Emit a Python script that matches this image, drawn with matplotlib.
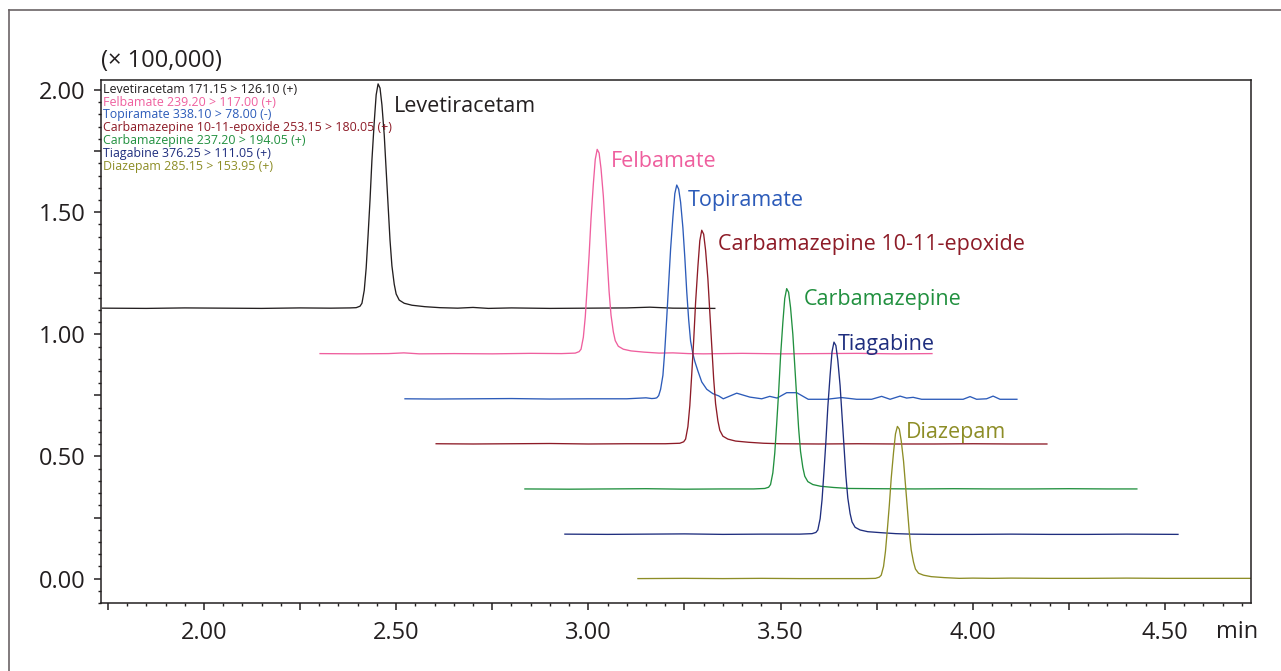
import matplotlib
matplotlib.use("Agg")
import matplotlib.pyplot as plt
from matplotlib.ticker import MultipleLocator, FuncFormatter
from matplotlib.lines import Line2D

plt.rcParams['font.family'] = ['Open Sans', 'DejaVu Sans']

# chromatograms as drawn (time in min, intensity in x 100,000)
lev_t = [1.736, 1.85, 1.95, 2.05, 2.15, 2.25, 2.33, 2.38,
         2.396, 2.406, 2.411, 2.417, 2.422, 2.427, 2.432, 2.437, 2.443, 2.448, 2.453,
         2.458, 2.463, 2.469, 2.474, 2.479, 2.484, 2.489, 2.495, 2.500, 2.508, 2.521,
         2.541, 2.575, 2.614,
         2.66, 2.70, 2.74, 2.80, 2.90, 3.00, 3.10, 3.16, 3.22, 3.329]
lev_y = [1.107, 1.106, 1.108, 1.107, 1.106, 1.108, 1.107, 1.108,
         1.109, 1.115, 1.127, 1.180, 1.271, 1.406, 1.549, 1.714, 1.869, 1.980, 2.025,
         2.008, 1.939, 1.816, 1.672, 1.529, 1.386, 1.280, 1.205, 1.165, 1.140, 1.127,
         1.119, 1.113, 1.109,
         1.107, 1.110, 1.106, 1.108, 1.106, 1.107, 1.108, 1.111, 1.107, 1.106]

felb_t = [2.302, 2.40, 2.48, 2.52, 2.56, 2.65, 2.75, 2.85, 2.93,
          2.966, 2.976, 2.981, 2.987, 2.992, 2.997, 3.002, 3.007, 3.013, 3.018, 3.023,
          3.028, 3.033, 3.039, 3.044, 3.049, 3.054, 3.059, 3.065, 3.070, 3.078, 3.091,
          3.111, 3.145, 3.184,
          3.22, 3.26, 3.30, 3.40, 3.50, 3.60, 3.70, 3.80, 3.894]
felb_y = [0.921, 0.920, 0.921, 0.924, 0.920, 0.921, 0.920, 0.922, 0.921,
          0.923, 0.929, 0.939, 0.988, 1.071, 1.194, 1.324, 1.474, 1.615, 1.716, 1.757,
          1.742, 1.678, 1.566, 1.436, 1.306, 1.175, 1.078, 1.010, 0.974, 0.951, 0.939,
          0.932, 0.927, 0.923,
          0.924, 0.921, 0.920, 0.922, 0.920, 0.921, 0.922, 0.920, 0.921]

topi_t = [2.523, 2.60, 2.70, 2.80, 2.90, 3.00, 3.10, 3.15, 3.165,
          3.173, 3.178, 3.183, 3.188, 3.194, 3.199, 3.204, 3.209, 3.214, 3.220, 3.225, 3.230,
          3.235, 3.240, 3.246, 3.251, 3.256, 3.261, 3.266, 3.272, 3.277, 3.285, 3.295,
          3.308, 3.324, 3.339,
          3.351, 3.386, 3.420, 3.451, 3.472, 3.491, 3.516, 3.542, 3.572, 3.620, 3.659,
          3.698, 3.737, 3.763, 3.785, 3.811, 3.828, 3.845, 3.867, 3.941, 3.975, 3.993,
          4.010, 4.036, 4.053, 4.071, 4.115]
topi_y = [0.736, 0.735, 0.736, 0.737, 0.735, 0.736, 0.736, 0.740, 0.737,
          0.738, 0.740, 0.749, 0.775, 0.832, 0.937, 1.069, 1.209, 1.349, 1.480, 1.576, 1.611,
          1.594, 1.541, 1.436, 1.314, 1.174, 1.060, 0.972, 0.920, 0.889, 0.850, 0.805,
          0.775, 0.757, 0.748,
          0.736, 0.759, 0.743, 0.736, 0.746, 0.739, 0.761, 0.761, 0.734, 0.734, 0.741,
          0.734, 0.734, 0.746, 0.734, 0.747, 0.739, 0.742, 0.734, 0.734, 0.734, 0.745,
          0.734, 0.736, 0.747, 0.734, 0.734]

epox_t = [2.604, 2.70, 2.80, 2.90, 3.00, 3.10, 3.20,
          3.238, 3.248, 3.253, 3.259, 3.264, 3.269, 3.274, 3.279, 3.285, 3.290, 3.295,
          3.300, 3.305, 3.311, 3.316, 3.321, 3.326, 3.331, 3.337, 3.342, 3.350, 3.363,
          3.383, 3.417, 3.456,
          3.50, 3.60, 3.70, 3.80, 3.90, 4.00, 4.10, 4.193]
epox_y = [0.552, 0.551, 0.552, 0.553, 0.551, 0.552, 0.552,
          0.554, 0.560, 0.571, 0.622, 0.708, 0.837, 0.973, 1.130, 1.277, 1.383, 1.426,
          1.410, 1.344, 1.227, 1.090, 0.954, 0.818, 0.716, 0.646, 0.607, 0.583, 0.571,
          0.563, 0.558, 0.554,
          0.552, 0.551, 0.552, 0.551, 0.551, 0.552, 0.551, 0.551]

carb_t = [2.835, 2.95, 3.05, 3.15, 3.25, 3.35, 3.43,
          3.459, 3.469, 3.474, 3.480, 3.485, 3.490, 3.495, 3.500, 3.506, 3.511, 3.516,
          3.521, 3.526, 3.532, 3.537, 3.542, 3.547, 3.552, 3.558, 3.563, 3.571, 3.584,
          3.604, 3.638, 3.677,
          3.75, 3.85, 3.95, 4.05, 4.15, 4.25, 4.35, 4.427]
carb_y = [0.367, 0.366, 0.367, 0.368, 0.366, 0.367, 0.367,
          0.369, 0.374, 0.385, 0.433, 0.514, 0.634, 0.762, 0.909, 1.048, 1.147, 1.187,
          1.172, 1.110, 1.000, 0.872, 0.744, 0.616, 0.521, 0.455, 0.419, 0.397, 0.385,
          0.378, 0.373, 0.369,
          0.368, 0.367, 0.368, 0.367, 0.367, 0.368, 0.367, 0.367]

tiag_t = [2.939, 3.05, 3.15, 3.25, 3.35, 3.45, 3.55,
          3.582, 3.592, 3.597, 3.603, 3.608, 3.613, 3.618, 3.623, 3.629, 3.634, 3.639,
          3.644, 3.649, 3.655, 3.660, 3.665, 3.670, 3.675, 3.681, 3.686, 3.694, 3.707,
          3.727, 3.761, 3.800,
          3.84, 3.90, 4.00, 4.10, 4.20, 4.30, 4.40, 4.534]
tiag_y = [0.182, 0.181, 0.182, 0.183, 0.181, 0.182, 0.182,
          0.184, 0.189, 0.199, 0.245, 0.323, 0.438, 0.561, 0.702, 0.834, 0.929, 0.968,
          0.954, 0.894, 0.789, 0.666, 0.544, 0.421, 0.330, 0.266, 0.232, 0.210, 0.199,
          0.192, 0.188, 0.184,
          0.182, 0.181, 0.181, 0.182, 0.181, 0.181, 0.182, 0.181]

diaz_t = [3.129, 3.25, 3.35, 3.45, 3.55, 3.65, 3.72,
          3.747, 3.757, 3.762, 3.768, 3.773, 3.778, 3.783, 3.788, 3.794, 3.799, 3.804,
          3.809, 3.814, 3.820, 3.825, 3.830, 3.835, 3.840, 3.846, 3.851, 3.859, 3.872,
          3.892, 3.926, 3.965,
          4.00, 4.05, 4.10, 4.20, 4.30, 4.40, 4.50, 4.60, 4.73]
diaz_y = [0.000, 0.001, 0.000, 0.001, 0.000, 0.000, 0.000,
          0.001, 0.006, 0.014, 0.050, 0.112, 0.203, 0.300, 0.412, 0.517, 0.592, 0.623,
          0.612, 0.564, 0.481, 0.384, 0.287, 0.189, 0.117, 0.067, 0.039, 0.022, 0.014,
          0.008, 0.004, 0.001,
          0.002, 0.001, 0.002, 0.001, 0.001, 0.002, 0.001, 0.001, 0.001]

names = ["Levetiracetam", "Felbamate", "Topiramate", "Carbamazepine 10-11-epoxide",
         "Carbamazepine", "Tiagabine", "Diazepam"]
transitions = ["171.15 > 126.10 (+)", "239.20 > 117.00 (+)", "338.10 > 78.00 (-)",
               "253.15 > 180.05 (+)", "237.20 > 194.05 (+)", "376.25 > 111.05 (+)",
               "285.15 > 153.95 (+)"]
colors = ["#231f20", "#ef5f9e", "#2c5bb9", "#8d1b27", "#21903f", "#1f2e7e", "#8d8d26"]
# where each peak name sits (time, intensity)
label_t = [2.494, 3.059, 3.259, 3.337, 3.561, 3.649, 3.826]
label_y = [1.933, 1.709, 1.549, 1.369, 1.144, 0.960, 0.598]

traces = [(lev_t, lev_y), (felb_t, felb_y), (topi_t, topi_y), (epox_t, epox_y),
          (carb_t, carb_y), (tiag_t, tiag_y), (diaz_t, diaz_y)]

fig = plt.figure(figsize=(12.81, 6.71), dpi=100)
ax = fig.add_axes([0.0788, 0.1013, 0.8978, 0.7795])

for (t, y), c in zip(traces, colors):
    ax.plot(t, y, color=c, lw=0.95)

for name, c, lt, ly in zip(names, colors, label_t, label_y):
    ax.text(lt, ly, name, color=c, fontsize=15.5, va='center', ha='left')

# small channel list in the top-left corner
for i, (name, tr, c) in enumerate(zip(names, transitions, colors)):
    ax.annotate(name + " " + tr, xy=(0, 1), xycoords='axes fraction',
                xytext=(1.5, -6.6 - i * 9.3), textcoords='offset points',
                color=c, fontsize=8.9, va='center', ha='left')

ax.set_xlim(1.732, 4.724)
ax.set_ylim(-0.1, 2.041)

def half_fmt(v, pos):
    if abs(v * 2 - round(v * 2)) < 1e-6:
        return f"{v:.2f}"
    return ""

ax.xaxis.set_major_locator(MultipleLocator(0.25))
ax.xaxis.set_minor_locator(MultipleLocator(0.05))
ax.yaxis.set_major_locator(MultipleLocator(0.25))
ax.yaxis.set_minor_locator(MultipleLocator(0.05))
ax.xaxis.set_major_formatter(FuncFormatter(half_fmt))
ax.yaxis.set_major_formatter(FuncFormatter(half_fmt))
ax.tick_params(which='major', length=5, width=1.1, color='#231f20', labelsize=17,
               labelcolor='#231f20')
ax.tick_params(which='minor', length=2.5, width=1.0, color='#231f20')
ax.tick_params(axis='x', which='major', pad=8)
ax.tick_params(axis='y', which='major', pad=6)
for sp in ax.spines.values():
    sp.set_linewidth(1.1)
    sp.set_color('#231f20')

ax.text(0.0, 1.037, "(\u00d7 100,000)", transform=ax.transAxes, fontsize=17,
        color='#231f20', va='center', ha='left')
ax.text(0.988, -0.056, "min", transform=ax.transAxes, fontsize=17,
        color='#231f20', va='center', ha='center')

# outer frame of the original screenshot
fig.add_artist(Line2D([0.007, 0.007], [0.0, 0.985], color='#6b6466', lw=1.2))
fig.add_artist(Line2D([0.007, 1.0], [0.985, 0.985], color='#6b6466', lw=1.2))

fig.savefig("out.png", dpi=100)
